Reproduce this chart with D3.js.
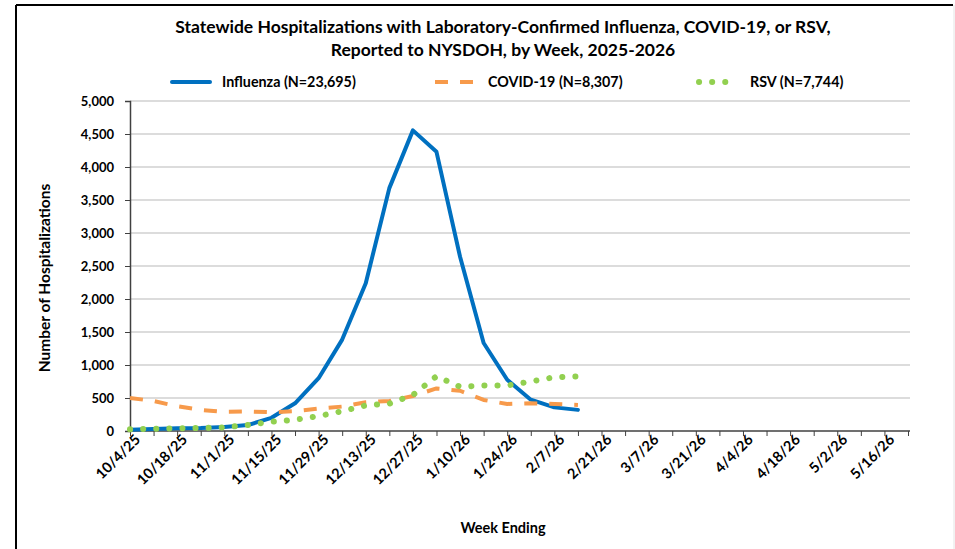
<!DOCTYPE html>
<html>
<head>
<meta charset="utf-8">
<script src="https://cdn.jsdelivr.net/npm/d3@7"></script>
<style>
  body { margin: 0; background: #fff; }
  svg { display: block; font-family: Lato, 'Open Sans', sans-serif; }
</style>
</head>
<body>
<svg id="chart" width="955" height="549"></svg>
<script>
const weeks = ['10/4/25', '10/11/25', '10/18/25', '10/25/25', '11/1/25', '11/8/25', '11/15/25', '11/22/25',
  '11/29/25', '12/6/25', '12/13/25', '12/20/25', '12/27/25', '1/3/26', '1/10/26', '1/17/26', '1/24/26',
  '1/31/26', '2/7/26', '2/14/26', '2/21/26', '2/28/26', '3/7/26', '3/14/26', '3/21/26', '3/28/26',
  '4/4/26', '4/11/26', '4/18/26', '4/25/26', '5/2/26', '5/9/26', '5/16/26', '5/23/26']

const influenza = [20, 30, 40, 45, 60, 90, 200, 420, 800, 1385, 2240, 3680, 4555, 4230, 2640, 1333, 777, 474, 358, 320]
const covid = [500, 455, 375, 320, 290, 295, 285, 300, 340, 370, 435, 455, 530, 645, 610, 470, 410, 420, 410, 395]
const rsv = [25, 35, 40, 45, 55, 90, 140, 170, 225, 300, 388, 414, 545, 830, 670, 690, 690, 750, 815, 827]

const yTicks = [0, 500, 1000, 1500, 2000, 2500, 3000, 3500, 4000, 4500, 5000]

const series = [
  { name: 'Influenza (N=23,695)', values: influenza, color: '#0070c0', dash: null, cap: 'round', width: 4 },
  { name: 'COVID-19 (N=8,307)', values: covid, color: '#f79a4b', dash: '13 12', cap: 'butt', width: 4 },
  { name: 'RSV (N=7,744)', values: rsv, color: '#92d050', dash: '0.1 13', cap: 'round', width: 6 }
]

const svg = d3.select('#chart')

// frame round the chart
svg.append('line').attr('x1', 16).attr('x2', 953).attr('y1', 5).attr('y2', 5)
  .attr('stroke', '#000').attr('stroke-width', 2)
svg.append('line').attr('x1', 16).attr('x2', 16).attr('y1', 5).attr('y2', 549)
  .attr('stroke', '#000').attr('stroke-width', 2)
svg.append('line').attr('x1', 954).attr('x2', 954).attr('y1', 5).attr('y2', 549)
  .attr('stroke', '#e4e4e4').attr('stroke-width', 1)

const x = d3.scalePoint().domain(weeks).range([130, 908])
const y = d3.scaleLinear().domain([0, 5000]).range([431, 101])

// gridlines
svg.append('g')
  .selectAll('line')
  .data(yTicks.slice(1))
  .join('line')
  .attr('x1', 130).attr('x2', 910)
  .attr('y1', (d) => y(d)).attr('y2', (d) => y(d))
  .attr('stroke', '#d0d0d0').attr('stroke-width', 1.5)

// y axis
const yAxis = svg.append('g')
  .attr('transform', 'translate(130,0)')
  .call(d3.axisLeft(y).tickValues(yTicks).tickSize(5).tickPadding(11).tickFormat(d3.format(',')))
yAxis.select('.domain').attr('stroke', '#404040').attr('stroke-width', 1.5)
yAxis.selectAll('.tick line').attr('stroke', '#404040')
yAxis.selectAll('text')
  .attr('font-size', '13px').attr('font-weight', 700).attr('fill', '#000')
  .attr('font-family', 'Lato, sans-serif')

// x axis
const xAxis = svg.append('g')
  .attr('transform', 'translate(0,431)')
  .call(d3.axisBottom(x).tickSize(5).tickSizeOuter(0).tickFormat((d, i) => (i % 2 === 0 ? d : '')))
xAxis.select('.domain').attr('stroke', '#404040').attr('stroke-width', 1.5)
  .attr('d', 'M130,0H910')
xAxis.selectAll('.tick line').attr('stroke', '#404040')
xAxis.selectAll('text')
  .attr('font-size', '14.5px').attr('font-weight', 700).attr('fill', '#000')
  .attr('font-family', 'Lato, sans-serif')
  .attr('text-anchor', 'end')
  .attr('transform', 'translate(7,6) rotate(-45)')
  .attr('y', 0).attr('dy', '0.35em')

// series lines
const line = d3.line().x((d, i) => x(weeks[i])).y((d) => y(d))
svg.append('g')
  .selectAll('path')
  .data(series)
  .join('path')
  .attr('fill', 'none')
  .attr('stroke', (d) => d.color)
  .attr('stroke-width', (d) => d.width)
  .attr('stroke-dasharray', (d) => d.dash)
  .attr('stroke-linecap', (d) => d.cap)
  .attr('stroke-linejoin', 'round')
  .attr('d', (d) => line(d.values))

// title
const title = svg.append('text')
  .attr('text-anchor', 'middle').attr('font-size', '17.5px').attr('font-weight', 700)
title.append('tspan').attr('x', 503).attr('y', 33)
  .text('Statewide Hospitalizations with Laboratory-Confirmed Influenza, COVID-19, or RSV,')
title.append('tspan').attr('x', 503).attr('y', 56)
  .text('Reported to NYSDOH, by Week, 2025-2026')

// legend
const legendX = [170, 433, 697]
const legend = svg.append('g')
  .selectAll('g')
  .data(series)
  .join('g')
  .attr('transform', (d, i) => `translate(${legendX[i]},82)`)
legend.append('line')
  .attr('x1', 2).attr('x2', 40)
  .attr('stroke', (d) => d.color)
  .attr('stroke-width', (d) => d.width)
  .attr('stroke-dasharray', (d) => d.dash)
  .attr('stroke-linecap', (d) => d.cap)
legend.append('text')
  .attr('x', (d, i) => [52, 55, 53][i]).attr('dy', '0.35em')
  .attr('font-size', '14.3px').attr('font-weight', 700)
  .text((d) => d.name)

// axis titles
svg.append('text')
  .attr('transform', 'translate(50,278) rotate(-90)')
  .attr('text-anchor', 'middle').attr('font-size', '15.5px').attr('font-weight', 700)
  .text('Number of Hospitalizations')
svg.append('text')
  .attr('x', 503).attr('y', 533)
  .attr('text-anchor', 'middle').attr('font-size', '14.5px').attr('font-weight', 700)
  .text('Week Ending')
</script>
</body>
</html>
